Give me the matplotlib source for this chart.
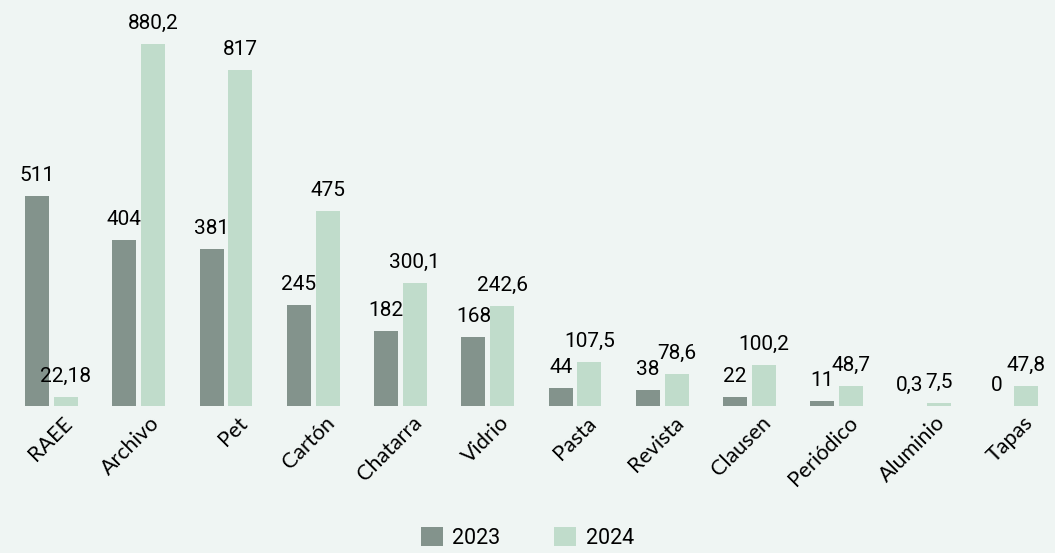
import numpy as np
import matplotlib.pyplot as plt
import matplotlib.transforms as mtrans

categorias = ['RAEE', 'Archivo', 'Pet', 'Cartón', 'Chatarra', 'Vidrio', 'Pasta',
              'Revista', 'Clausen', 'Periódico', 'Aluminio', 'Tapas']
v2023 = [511, 404, 381, 245, 182, 168, 44, 38, 22, 11, 0.3, 0]
v2024 = [22.18, 880.2, 817, 475, 300.1, 242.6, 107.5, 78.6, 100.2, 48.7, 7.5, 47.8]
lab2023 = ['511', '404', '381', '245', '182', '168', '44', '38', '22', '11', '0,3', '0']
lab2024 = ['22,18', '880,2', '817', '475', '300,1', '242,6', '107,5', '78,6', '100,2',
           '48,7', '7,5', '47,8']

bg = '#eff5f3'
c23 = '#83938c'
c24 = '#c0dccb'

plt.rcParams['font.family'] = ['Lato', 'DejaVu Sans']

fig = plt.figure(figsize=(10.55, 5.53), dpi=100, facecolor=bg)
ax = fig.add_axes([0, 0.266, 1, 0.734])
ax.set_facecolor(bg)

x = np.arange(len(categorias))
w = 0.275
b1 = ax.bar(x - 0.165, v2023, w, color=c23, label='2023')
b2 = ax.bar(x + 0.165, v2024, w, color=c24, label='2024')
ax.bar_label(b1, labels=lab2023, padding=8, fontsize=15, family='Roboto')
ax.bar_label(b2, labels=lab2024, padding=8, fontsize=15, family='Roboto')

ax.set_xlim(-0.59, 11.5)
ax.set_ylim(0, 988)
ax.set_yticks([])
ax.set_xticks(x)
ax.set_xticklabels(categorias, rotation=45, ha='right', rotation_mode='anchor', fontsize=15.5)
ax.tick_params(axis='x', length=0, pad=5)
shift = mtrans.ScaledTranslation(0.11, 0, fig.dpi_scale_trans)
for t in ax.get_xticklabels():
    t.set_transform(t.get_transform() + shift)
for s in ax.spines.values():
    s.set_visible(False)

fig.legend(loc='center', bbox_to_anchor=(0.5, 0.028), ncol=2, frameon=False,
           handlelength=1.0, handleheight=1.0, columnspacing=2.5,
           handletextpad=0.45, prop={'family': 'Roboto', 'size': 15.5})

fig.savefig('out.png', dpi=100, facecolor=bg)
